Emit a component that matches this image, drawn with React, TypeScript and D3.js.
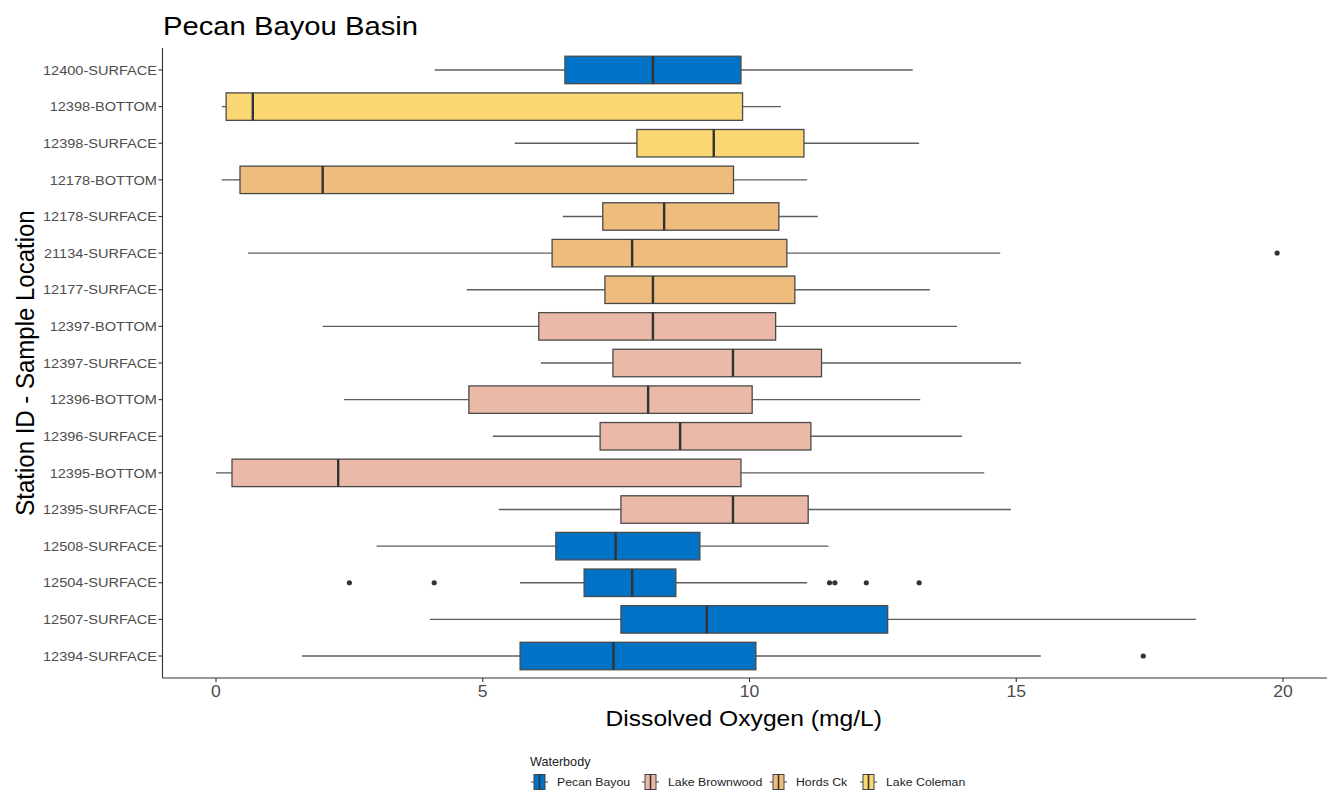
import React from "react";
import * as d3 from "d3";

const stations = [
  "12400-SURFACE", "12398-BOTTOM", "12398-SURFACE", "12178-BOTTOM", "12178-SURFACE",
  "21134-SURFACE", "12177-SURFACE", "12397-BOTTOM", "12397-SURFACE", "12396-BOTTOM",
  "12396-SURFACE", "12395-BOTTOM", "12395-SURFACE", "12508-SURFACE", "12504-SURFACE",
  "12507-SURFACE", "12394-SURFACE",
];
const waterbodyOf = [
  "Pecan Bayou", "Lake Coleman", "Lake Coleman", "Hords Ck", "Hords Ck",
  "Hords Ck", "Hords Ck", "Lake Brownwood", "Lake Brownwood", "Lake Brownwood",
  "Lake Brownwood", "Lake Brownwood", "Lake Brownwood", "Pecan Bayou", "Pecan Bayou",
  "Pecan Bayou", "Pecan Bayou",
];
const lowWhisker = [4.10, 0.11, 5.60, 0.11, 6.50, 0.60, 4.70, 2.00, 6.09, 2.40, 5.19, 0.00, 5.30, 3.01, 5.70, 4.01, 1.61];
const q1 = [6.54, 0.19, 7.89, 0.45, 7.25, 6.30, 7.29, 6.05, 7.44, 4.74, 7.20, 0.30, 7.59, 6.37, 6.90, 7.59, 5.70];
const medians = [8.19, 0.69, 9.33, 2.00, 8.40, 7.80, 8.19, 8.19, 9.69, 8.10, 8.70, 2.29, 9.69, 7.49, 7.80, 9.20, 7.45];
const q3 = [9.84, 9.87, 11.02, 9.70, 10.55, 10.70, 10.85, 10.49, 11.35, 10.05, 11.15, 9.84, 11.10, 9.07, 8.62, 12.59, 10.12];
const highWhisker = [13.06, 10.59, 13.18, 11.08, 11.28, 14.70, 13.38, 13.89, 15.09, 13.20, 13.98, 14.40, 14.90, 11.48, 11.08, 18.37, 15.46];
const outliers: number[][] = [
  [], [], [], [], [], [19.89], [], [], [], [], [], [], [], [],
  [2.50, 4.09, 11.50, 11.60, 12.19, 13.18], [], [17.38],
];
const waterbodies = ["Pecan Bayou", "Lake Brownwood", "Hords Ck", "Lake Coleman"];
const waterbodyColors = ["#0073C6", "#EAB9A8", "#EEBD7D", "#FAD772"];
const xTicks = [0, 5, 10, 15, 20];

const FONT = "Arial, 'Liberation Sans', Helvetica, sans-serif";

function SText(props: {
  x: number; y: number; sx?: number; size: number; fill: string; anchor?: string; dy?: string; rotate?: number; children: React.ReactNode;
}) {
  const { x, y, sx = 1, size, fill, anchor = "start", dy, rotate = 0, children } = props;
  const tf = rotate
    ? `translate(${x},${y}) rotate(${rotate}) scale(1,${sx})`
    : `translate(${x},${y}) scale(${sx},1)`;
  return (
    <text transform={tf} fontSize={size} fill={fill} textAnchor={anchor} dy={dy}>
      {children}
    </text>
  );
}

export default function App() {
  const W = 1327, H = 792;
  const x = d3.scaleLinear().domain([0, 20]).range([216, 1283]);
  const panelLeft = 162.5, panelTop = 48, panelBottom = 678;
  const panelRight = x(20.895);
  const y = d3.scalePoint<string>().domain(stations).range([panelTop, panelBottom]).padding(0.6);
  const step = y.step();
  const boxH = step * 0.75;
  const color = d3.scaleOrdinal<string, string>().domain(waterbodies).range(waterbodyColors);

  const legendX = [531, 642, 770, 860];
  const legendTextOffset = 26;

  return (
    <svg width={W} height={H} style={{ position: "absolute", left: 0, top: 0, background: "#fff" }} fontFamily={FONT}>
      <rect x={0} y={0} width={W} height={H} fill="#fff" />
      <SText x={163} y={35} size={25} sx={1.17} fill="#000">Pecan Bayou Basin</SText>

      {stations.map((s, i) => {
        const cy = y(s)!;
        const fill = color(waterbodyOf[i]);
        return (
          <g key={s}>
            <line x1={x(lowWhisker[i])} x2={x(q1[i])} y1={cy} y2={cy} stroke="#5e5e5e" strokeWidth={1.3} />
            <line x1={x(q3[i])} x2={x(highWhisker[i])} y1={cy} y2={cy} stroke="#5e5e5e" strokeWidth={1.3} />
            <rect x={x(q1[i])} y={cy - boxH / 2} width={x(q3[i]) - x(q1[i])} height={boxH} fill={fill} stroke="#4a4a4a" strokeWidth={1.3} />
            <line x1={x(medians[i])} x2={x(medians[i])} y1={cy - boxH / 2} y2={cy + boxH / 2} stroke="#333" strokeWidth={2.4} />
            {outliers[i].map((o, j) => (
              <circle key={j} cx={x(o)} cy={cy} r={2.6} fill="#333" />
            ))}
          </g>
        );
      })}

      {/* axes */}
      <line x1={panelLeft} x2={panelLeft} y1={panelTop} y2={panelBottom} stroke="#333" strokeWidth={1.1} />
      <line x1={panelLeft} x2={panelRight} y1={panelBottom} y2={panelBottom} stroke="#333" strokeWidth={1.1} />
      {stations.map((s) => (
        <g key={"yt" + s}>
          <line x1={panelLeft - 4} x2={panelLeft} y1={y(s)!} y2={y(s)!} stroke="#333" strokeWidth={1.1} />
          <SText x={panelLeft - 5.5} y={y(s)!} dy="0.36em" anchor="end" size={13} sx={1.12} fill="#4D4D4D">{s}</SText>
        </g>
      ))}
      {xTicks.map((t) => (
        <g key={"xt" + t}>
          <line x1={x(t)} x2={x(t)} y1={panelBottom} y2={panelBottom + 4} stroke="#333" strokeWidth={1.1} />
          <SText x={x(t)} y={panelBottom + 19} anchor="middle" size={16} sx={1.1} fill="#4D4D4D">{t}</SText>
        </g>
      ))}
      <SText x={(panelLeft + 1325) / 2} y={726} anchor="middle" size={22} sx={1.12} fill="#000">Dissolved Oxygen (mg/L)</SText>
      <SText x={34} y={(panelTop + panelBottom) / 2} anchor="middle" size={24} sx={1.1} rotate={-90} fill="#000">Station ID - Sample Location</SText>

      {/* legend */}
      <SText x={530} y={766} size={12} sx={1.05} fill="#222">Waterbody</SText>
      {waterbodies.map((w, i) => {
        const lx = legendX[i];
        const cy = 782;
        return (
          <g key={w}>
            <line x1={lx} x2={lx + 17} y1={cy} y2={cy} stroke="#444" strokeWidth={1} />
            <rect x={lx + 3} y={cy - 7.5} width={11} height={15} fill={waterbodyColors[i]} stroke="#444" strokeWidth={1} />
            <line x1={lx + 8.5} x2={lx + 8.5} y1={cy - 7.5} y2={cy + 7.5} stroke="#333" strokeWidth={1.6} />
            <SText x={lx + legendTextOffset} y={cy} dy="0.36em" size={11.5} sx={1.07} fill="#222">{w}</SText>
          </g>
        );
      })}
    </svg>
  );
}
